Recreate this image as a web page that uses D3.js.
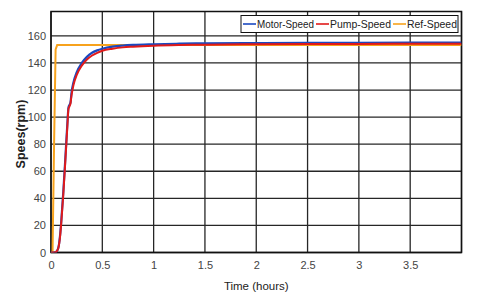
<!DOCTYPE html>
<html><head><meta charset="utf-8">
<script src="https://cdn.jsdelivr.net/npm/d3@7"></script>
<style>body{margin:0;background:#fff}svg{display:block}text{font-family:Arial,"Liberation Sans",sans-serif}</style>
</head><body><svg id="c" width="480" height="297"></svg>
<script>
const time  = [0, 0.03, 0.05, 0.07, 0.09, 0.1, 0.12, 0.14, 0.16, 0.17, 0.18, 0.19, 0.2, 0.22, 0.25, 0.3, 0.35, 0.4, 0.45, 0.5, 0.6, 0.7, 0.8, 1.0, 1.25, 1.5, 2, 2.5, 3, 3.5, 4];
const pumpSpeed  = [0, 0, 0.5, 3, 13, 22, 43, 68, 94, 106, 108, 110, 116, 124, 131, 138, 142.5, 145.5, 147.5, 149, 150.5, 151.5, 152, 152.7, 153.2, 153.5, 153.8, 154, 154, 154.2, 154.2];
const motorSpeed = [0, 0, 0.5, 3, 14, 23, 45, 70, 96, 107, 109, 111, 118, 126, 133, 140, 144.5, 147.5, 149.3, 150.5, 152, 152.8, 153.3, 153.8, 154.2, 154.5, 154.7, 154.8, 154.9, 155, 155];
const refTime  = [0, 0.015, 0.03, 0.045, 0.06, 4];
const refSpeed = [0, 0, 80, 150, 153.2, 153.2];
const xTicks = [0, 0.5, 1, 1.5, 2, 2.5, 3, 3.5];
const yTicks = [0, 20, 40, 60, 80, 100, 120, 140, 160];
const seriesNames = ["Motor-Speed", "Pump-Speed", "Ref-Speed"];
const colors = ["#1a48bf", "#e01a1a", "#f7a21c"];

const svg = d3.select("#c");
const L = 51, R = 461.5, T = 11.5, B = 252.5;
const x = d3.scaleLinear().domain([0, 4]).range([L, R]);
const y = d3.scaleLinear().domain([0, 178]).range([B, T]);

// grid
const g = svg.append("g");
g.selectAll(".gx").data(xTicks.concat([4])).enter().append("line")
  .attr("x1", d => x(d)).attr("x2", d => x(d)).attr("y1", T).attr("y2", B)
  .attr("stroke", "#262626").attr("stroke-width", 1.3);
g.selectAll(".gy").data(yTicks).enter().append("line")
  .attr("x1", L).attr("x2", R).attr("y1", d => y(d)).attr("y2", d => y(d))
  .attr("stroke", "#262626").attr("stroke-width", 1.3);

// axes
const xAxis = d3.axisBottom(x).tickValues(xTicks).tickFormat(d3.format("")).tickSize(0).tickPadding(9);
const yAxis = d3.axisLeft(y).tickValues(yTicks).tickSize(0).tickPadding(5);
const ax = svg.append("g").attr("transform", `translate(0,${B})`).call(xAxis);
const ay = svg.append("g").attr("transform", `translate(${L},0)`).call(yAxis);
[ax, ay].forEach(a => {
  a.select(".domain").remove();
  a.selectAll("text").attr("font-size", 11).attr("fill", "#444").attr("font-family", "Arial, 'Liberation Sans', sans-serif");
});

// box
svg.append("rect").attr("x", L).attr("y", T).attr("width", R - L).attr("height", B - T)
  .attr("fill", "none").attr("stroke", "#111").attr("stroke-width", 1.5);

// lines
const line = d3.line().x(d => x(d[0])).y(d => y(d[1])).curve(d3.curveMonotoneX);
const lineRef = d3.line().x(d => x(d[0])).y(d => y(d[1])).curve(d3.curveLinear);
const clip = svg.append("clipPath").attr("id", "clp").append("rect")
  .attr("x", L).attr("y", T).attr("width", R - L).attr("height", B - T);
const pl = svg.append("g").attr("clip-path", "url(#clp)");
pl.append("path").datum(refTime.map((t, i) => [t, refSpeed[i]])).attr("d", lineRef)
  .attr("fill", "none").attr("stroke", colors[2]).attr("stroke-width", 2);
pl.append("path").datum(time.map((t, i) => [t, motorSpeed[i]])).attr("d", line)
  .attr("fill", "none").attr("stroke", colors[0]).attr("stroke-width", 2.2);
pl.append("path").datum(time.map((t, i) => [t, pumpSpeed[i]])).attr("d", line)
  .attr("fill", "none").attr("stroke", colors[1]).attr("stroke-width", 2);

// legend
const lg = svg.append("g");
lg.append("rect").attr("x", 241).attr("y", 15.5).attr("width", 217).attr("height", 17)
  .attr("fill", "#fff").attr("stroke", "#111").attr("stroke-width", 1);
const legX = [243, 316, 393];
const legW = [57, 61, 50];
seriesNames.forEach((n, i) => {
  lg.append("line").attr("x1", legX[i]).attr("x2", legX[i] + 13).attr("y1", 24).attr("y2", 24)
    .attr("stroke", colors[i]).attr("stroke-width", 1.6);
  lg.append("text").attr("x", legX[i] + 14).attr("y", 28).attr("font-size", 10.5).attr("fill", "#222")
    .attr("textLength", legW[i]).attr("lengthAdjust", "spacingAndGlyphs").text(n);
});

// axis titles
svg.append("text").attr("x", x(2)).attr("y", 290).attr("text-anchor", "middle")
  .attr("font-size", 11.5).attr("fill", "#222").text("Time (hours)");
svg.append("text").attr("transform", `translate(25,134) rotate(-90)`).attr("text-anchor", "middle")
  .attr("font-size", 12.5).attr("font-weight", "bold").attr("fill", "#222").text("Spees(rpm)");
</script></body></html>
